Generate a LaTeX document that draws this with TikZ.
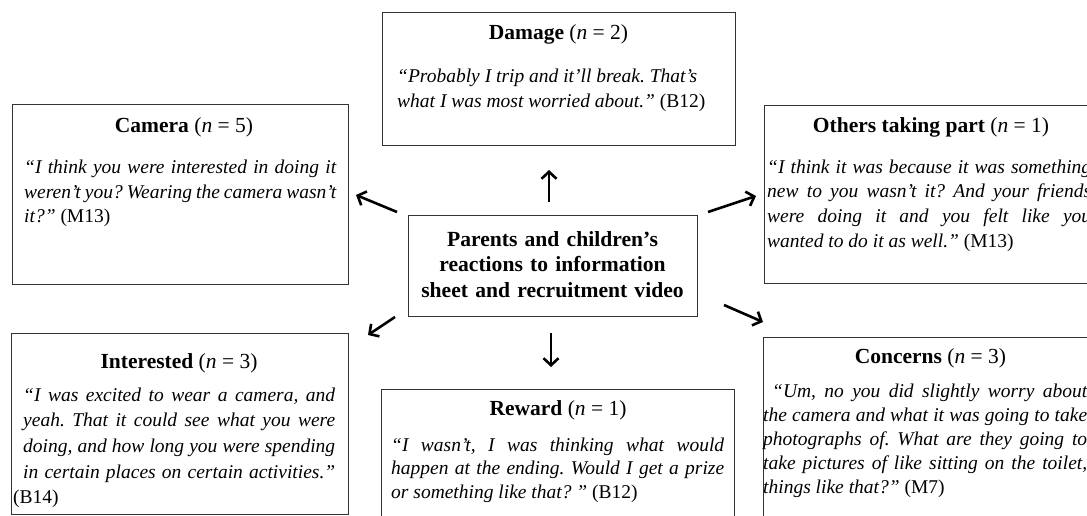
\documentclass[tikz,border=0pt]{standalone}
\usepackage{fontspec}
\setmainfont{Liberation Serif}
\usetikzlibrary{arrows.meta}
\begin{document}
\frenchspacing
\begin{tikzpicture}[x=1pt,y=-1pt,
  box/.style={draw=black!80, line width=1.4pt, fill=none, inner sep=0pt, anchor=north west},
  ttl/.style={inner sep=0pt, anchor=base, font=\fontsize{21.5}{26}\selectfont},
  qt/.style={inner sep=0pt, anchor=base west, align=justify, font=\fontsize{19.5}{#1}\selectfont\itshape},
  arr/.style={line width=2.6pt, -{Straight Barb[length=7pt,width=15pt]}}
]
\useasboundingbox (0,0) rectangle (1087,516);
\clip (0,0) rectangle (1087,516);
\fill[white] (0,0) rectangle (1087,516);
\tolerance=10000 \hyphenpenalty=10000

% boxes
\node[box, minimum width=353pt, minimum height=133pt] (dambox) at (382,12) {};
\node[box, minimum width=336pt, minimum height=180pt] (cambox) at (12,104) {};
\node[box, minimum width=336pt, minimum height=178pt] (othbox) at (764,105) {};
\node[box, minimum width=289pt, minimum height=101pt] (cenbox) at (408,215) {};
\node[box, minimum width=337pt, minimum height=181pt] (intbox) at (11,333) {};
\node[box, minimum width=353pt, minimum height=150pt] (rewbox) at (381,389) {};
\node[box, minimum width=337pt, minimum height=200pt] (conbox) at (763,337) {};

% centre text
\node[inner sep=0pt, anchor=base, text width=285pt, align=center,
      font=\fontsize{21.6}{25.7}\selectfont\bfseries] (centre) at (552.5,246)
  {Parents and children’s\\reactions to information\\sheet and recruitment video};

% titles
\node[ttl] (damt) at (558.5,39.5) {\textbf{Damage} (\textit{n} = 2)};
\node[ttl] (camt) at (184,133) {\textbf{Camera} (\textit{n} = 5)};
\node[ttl] (otht) at (931,132) {\textbf{Others taking part} (\textit{n} = 1)};
\node[ttl] (intt) at (179,368) {\textbf{Interested} (\textit{n} = 3)};
\node[ttl] (rewt) at (558,415) {\textbf{Reward} (\textit{n} = 1)};
\node[ttl] (cont) at (930.5,363) {\textbf{Concerns} (\textit{n} = 3)};

% quotes
\node[qt=24.5, align=flush left, text width=330pt] (damq) at (397,83)
  {“Probably I trip and it’ll break. That’s\\what I was most worried about.” {\upshape (B12)}};
\node[qt=25, text width=312pt] (camq) at (24,173)
  {“I think you were interested in doing it\linebreak weren’t you? Wearing the camera wasn’t\linebreak it?” {\upshape (M13)}};
\node[qt=24.7, text width=324pt] (othq) at (767,173)
  {“I think it was because it was something\linebreak new to you wasn’t it? And your friends\linebreak were doing it and you felt like you\linebreak wanted to do it as well.” {\upshape (M13)}};
\node[qt=25.7, text width=312pt] (intq) at (23,401)
  {“I was excited to wear a camera, and\linebreak yeah. That it could see what you were\linebreak doing, and how long you were spending\linebreak in certain places on certain activities.”\linebreak \hspace*{-10pt}{\upshape (B14)}};
\node[qt=23.7, text width=333pt] (rewq) at (391,451)
  {“I wasn’t, I was thinking what would\linebreak happen at the ending. Would I get a prize\linebreak or something like that? ” {\upshape (B12)}};
\node[qt=24, text width=324pt] (conq) at (763,397)
  {\hspace*{9pt}“Um, no you did slightly worry about\linebreak the camera and what it was going to take\linebreak photographs of. What are they going to\linebreak take pictures of like sitting on the toilet,\linebreak things like that?” {\upshape (M7)}};

% arrow end points
\coordinate (upA) at (549,202);   \coordinate (upB) at (549,170);
\coordinate (dnA) at (551,333);   \coordinate (dnB) at (551,367);
\coordinate (caA) at (397,212);   \coordinate (caB) at (356,195);
\coordinate (otA) at (708,212);   \coordinate (otB) at (756,196);
\coordinate (inA) at (395,317);   \coordinate (inB) at (368,335);
\coordinate (coA) at (724,305);   \coordinate (coB) at (763,322);

\draw[arr] (upA) -- (upB);
\draw[arr] (dnA) -- (dnB);
\draw[arr] (caA) -- (caB);
\draw[arr] (otA) -- (otB);
\draw[arr] (inA) -- (inB);
\draw[arr] (coA) -- (coB);
\end{tikzpicture}
\end{document}
